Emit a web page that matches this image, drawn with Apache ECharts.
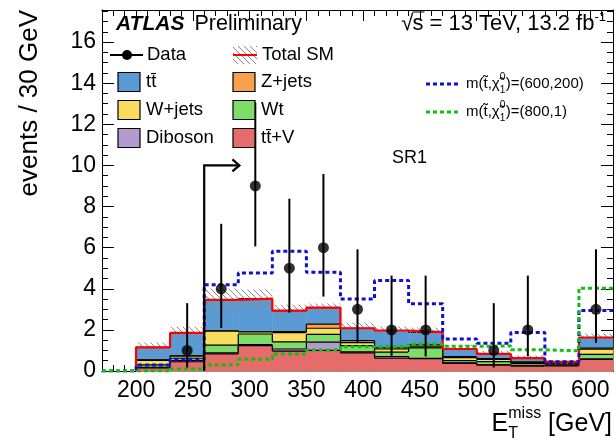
<!DOCTYPE html>
<html><head><meta charset="utf-8">
<script src="https://cdn.jsdelivr.net/npm/echarts@6/dist/echarts.min.js"></script>
<style>html,body{margin:0;padding:0;background:#fff}#c{width:616px;height:440px}</style>
</head><body><div id="c"></div><script>
// ---- data ----
const binEdges = [200,230,260,290,320,350,380,410,440,470,500,530,560,590,620];
const ttV     = [0.15,0.45,0.83,1.23,0.97,1.00,0.88,0.62,0.60,0.37,0.28,0.24,0.25,0.56];
const diboson = [0.03,0.05,0.05,0.05,0.10,0.40,0.05,0.08,0.02,0.03,0.03,0.02,0.02,0.03];
const wt      = [0.12,0.12,0.38,0.52,0.35,0.38,0.30,0.22,0.50,0.10,0.15,0.10,0.06,0.22];
const wjets   = [0.22,0.10,0.68,0.10,0.45,0.30,0.15,0.15,0.05,0.15,0.10,0.06,0.04,0.25];
const zjets   = [0.03,0.03,0.02,0.02,0.05,0.20,0.10,0.05,0.10,0.05,0.04,0.03,0.02,0.05];
const ttbar   = [0.60,1.10,1.50,1.60,1.02,0.80,0.60,0.85,0.62,0.37,0.23,0.18,0.05,0.52];
const totalUnc = [0.24,0.30,0.55,0.45,0.28,0.20,0.28,0.20,0.22,0.20,0.15,0.13,0.10,0.20];
const sig600_200 = [0.29,0.57,4.20,4.77,5.82,4.80,3.50,4.40,3.27,1.56,1.35,1.87,0.45,2.94];
const sig800_1   = [0.00,0.10,0.30,0.57,0.83,1.02,1.18,1.20,1.30,1.20,1.22,1.03,0.98,4.03];
const dataX  = [245,275,305,335,365,395,425,455,515,545,605];
const dataY  = [1,4,9,5,6,3,2,2,1,2,3];
const dataLo = [0.17,2.09,6.06,2.84,3.62,1.37,0.71,0.71,0.17,0.71,1.37];
const dataHi = [3.30,7.16,13.06,8.38,9.58,5.92,4.64,4.64,3.30,4.64,5.92];
const xMajorTicks = [200,250,300,350,400,450,500,550,600];
const cutValue = 260, arrowY = 10, arrowEnd = 291;

const FONT = 'Liberation Sans';
const colors = {ttbar:'#5b9bd5', zjets:'#f8a04c', wjets:'#fadc5e', wt:'#80dc68', diboson:'#b39bd0', ttV:'#e66b6b'};

// cumulative stacks (bottom → top: ttV, diboson, Wt, W+jets, Z+jets, ttbar)
const layers = [['ttV',ttV],['diboson',diboson],['wt',wt],['wjets',wjets],['zjets',zjets],['ttbar',ttbar]];
const cums = []; let run = binEdges.slice(0,-1).map(()=>0);
layers.forEach(([k,arr])=>{ run = run.map((v,i)=>v+arr[i]); cums.push([k, run.slice()]); });
const total = run.slice();

const ctx2 = document.createElement('canvas').getContext('2d');
function tw(s, size, w){ ctx2.font = (w||'') + ' ' + size + 'px "' + FONT + '"'; return ctx2.measureText(s).width; }

// hatch pattern
const pat = document.createElement('canvas'); pat.width = 6; pat.height = 6;
(function(){ const g = pat.getContext('2d'); g.strokeStyle = '#8a8a8a'; g.lineWidth = 1;
  g.beginPath(); g.moveTo(0,0); g.lineTo(6,6); g.moveTo(-3,3); g.lineTo(3,9); g.moveTo(3,-3); g.lineTo(9,3); g.stroke(); })();
const hatchFill = {image: pat, repeat: 'repeat'};

function stackSeries(key, cum){
  const data = cum.map((c,i)=>[binEdges[i], binEdges[i+1], c, i>0?cum[i-1]:0]);
  return {type:'custom', silent:true, data,
    encode:{x:[0,1], y:[2]},
    renderItem:(p, api)=>{
      const x0=api.value(0), x1=api.value(1), c=api.value(2), pv=api.value(3);
      const a=api.coord([x0,0]), b=api.coord([x1,c]), pp=api.coord([x0,pv]);
      return {type:'group', children:[
        {type:'rect', shape:{x:a[0], y:b[1], width:b[0]-a[0], height:a[1]-b[1]}, style:{fill:colors[key], stroke:colors[key], lineWidth:0.6}},
        {type:'line', shape:{x1:a[0], y1:b[1], x2:b[0], y2:b[1]}, style:{stroke:'#000', lineWidth:1.2}},
        {type:'line', shape:{x1:a[0], y1:pp[1], x2:a[0], y2:b[1]}, style:{stroke:'#000', lineWidth:1.2}}
      ]};
    }};
}
function stepPts(vals, start){
  const pts = [[start,0]];
  vals.forEach((v,i)=>pts.push([binEdges[i], v]));
  pts.push([binEdges[binEdges.length-1], vals[vals.length-1]]);
  return pts;
}

const series = [];
for (let i = cums.length-1; i >= 0; i--) series.push(stackSeries(cums[i][0], cums[i][1]));
// uncertainty hatch
series.push({type:'custom', silent:true, data: total.map((t,i)=>[binEdges[i], binEdges[i+1], t-totalUnc[i], t+totalUnc[i]]),
  encode:{x:[0,1], y:[2,3]},
  renderItem:(p, api)=>{
    const a=api.coord([api.value(0), api.value(2)]), b=api.coord([api.value(1), api.value(3)]);
    return {type:'rect', shape:{x:a[0], y:b[1], width:b[0]-a[0], height:a[1]-b[1]}, style:{fill:hatchFill}};
  }});
series.push({type:'line', step:'end', data: stepPts(total, 200), symbol:'none', silent:true,
  lineStyle:{color:'#ff0000', width:2.2}, z:3});
series.push({type:'line', step:'end', data: stepPts(sig600_200, 170), symbol:'none', silent:true,
  lineStyle:{color:'#1010d0', width:3, type:[4,3]}, z:4});
series.push({type:'line', step:'end', data: stepPts(sig800_1, 170), symbol:'none', silent:true,
  lineStyle:{color:'#10c010', width:3, type:[4,3]}, z:4});
// data error bars
series.push({type:'custom', silent:true, z:5, data: dataX.map((x,i)=>[x, dataLo[i], dataHi[i]]),
  encode:{x:0, y:[1,2]},
  renderItem:(p, api)=>{
    const a=api.coord([api.value(0), api.value(1)]), b=api.coord([api.value(0), api.value(2)]);
    return {type:'line', shape:{x1:a[0], y1:a[1], x2:b[0], y2:b[1]}, style:{stroke:'#000', lineWidth:2}};
  }});
series.push({type:'scatter', silent:true, z:6, data: dataX.map((x,i)=>[x, dataY[i]]), symbol:'circle', symbolSize:11,
  itemStyle:{color:'#000'}});
// cut arrow
series.push({type:'custom', silent:true, z:6, data:[[cutValue, 0, arrowY, arrowEnd]],
  encode:{x:[0,3], y:[1,2]},
  renderItem:(p, api)=>{
    const a=api.coord([api.value(0), api.value(1)]), b=api.coord([api.value(0), api.value(2)]), c=api.coord([api.value(3), api.value(2)]);
    return {type:'group', children:[
      {type:'polyline', shape:{points:[a,b,c]}, style:{stroke:'#000', lineWidth:2.2, fill:null}},
      {type:'polyline', shape:{points:[[c[0]-7,c[1]-6],[c[0],c[1]],[c[0]-7,c[1]+6]]}, style:{stroke:'#000', lineWidth:2.2, fill:null}}
    ]};
  }});

const axBase = {type:'value', splitLine:{show:false}, axisLine:{show:true, onZero:false, lineStyle:{color:'#000', width:1}}};
const LBL = 23;
const option = {
  animation:false,
  grid:[{left:102, right:3, top:10, bottom:69}, {left:102, right:3, top:10, bottom:69}],
  xAxis:[
    Object.assign({}, axBase, {gridIndex:0, position:'bottom', min:170, max:620,
      axisTick:{inside:true, length:11, customValues:xMajorTicks, lineStyle:{color:'#000'}},
      axisLabel:{customValues:xMajorTicks, fontSize:LBL, color:'#000', fontFamily:FONT, margin:8}}),
    Object.assign({}, axBase, {gridIndex:0, position:'top', min:170, max:620,
      axisTick:{inside:true, length:11, customValues:xMajorTicks, lineStyle:{color:'#000'}},
      axisLabel:{show:false}}),
    Object.assign({}, axBase, {gridIndex:1, position:'bottom', min:170, max:620, interval:10,
      axisTick:{inside:true, length:6, lineStyle:{color:'#000'}}, axisLabel:{show:false}}),
    Object.assign({}, axBase, {gridIndex:1, position:'top', min:170, max:620, interval:10,
      axisTick:{inside:true, length:6, lineStyle:{color:'#000'}}, axisLabel:{show:false}})
  ],
  yAxis:[
    Object.assign({}, axBase, {gridIndex:0, position:'left', min:0, max:17.56, interval:2,
      axisTick:{inside:true, length:12, lineStyle:{color:'#000'}},
      minorTick:{show:true, splitNumber:4, length:6, lineStyle:{color:'#000'}},
      axisLabel:{fontSize:LBL, color:'#000', fontFamily:FONT, margin:6, showMaxLabel:false}}),
    Object.assign({}, axBase, {gridIndex:0, position:'right', min:0, max:17.56, interval:2,
      axisTick:{inside:true, length:12, lineStyle:{color:'#000'}},
      minorTick:{show:true, splitNumber:4, length:6, lineStyle:{color:'#000'}},
      axisLabel:{show:false}}),
    Object.assign({}, axBase, {gridIndex:1, min:0, max:17.56, show:false})
  ],
  series: series.map(s=>Object.assign({xAxisIndex:0, yAxisIndex:0}, s)),
  graphic: []
};

// ---- labels / legend ----
const G = [];
const T = (x,y,text,size,opt)=>G.push(Object.assign({type:'text', x, y, style:Object.assign({text, fontSize:size, fontFamily:FONT, fill:'#000', verticalAlign:'middle'}, (opt&&opt.style)||{})}, opt&&opt.el||{}));
// ATLAS Preliminary
G.push({type:'text', x:116, y:24, style:{text:'ATLAS', fontSize:21, fontWeight:'bold', fontStyle:'italic', fontFamily:FONT, fill:'#000', verticalAlign:'middle'}});
const atlasW = tw('ATLAS', 21, 'italic bold');
T(116+atlasW+10, 24, 'Preliminary', 21.5);
// sqrt s
const supW = tw('-1', 13);
const mainTxt = 's = 13 TeV, 13.2 fb';
const mainW = tw(mainTxt, 22);
const sEnd = 606 - supW;
T(sEnd - mainW, 24, mainTxt, 22);
T(sEnd, 17, '-1', 13);
const rootW = tw('√', 22);
T(sEnd - mainW - rootW + 1, 24, '√', 22);
G.push({type:'line', shape:{x1:sEnd-mainW, y1:12, x2:sEnd-mainW+tw('s',22)+1, y2:12}, style:{stroke:'#000', lineWidth:1}});

// legend
const rows = [55, 82, 110, 138];
const c1 = 118, c2 = 233, lf = 18.5;
// Data
G.push({type:'line', shape:{x1:110, y1:rows[0], x2:143, y2:rows[0]}, style:{stroke:'#000', lineWidth:2}});
G.push({type:'circle', shape:{cx:127, cy:rows[0], r:5}, style:{fill:'#000'}});
T(147, rows[0], 'Data', lf);
// Total SM
G.push({type:'rect', shape:{x:c2, y:rows[0]-9, width:24, height:18}, style:{fill:hatchFill}});
G.push({type:'line', shape:{x1:c2, y1:rows[0], x2:c2+24, y2:rows[0]}, style:{stroke:'#ff0000', lineWidth:2}});
T(262, rows[0], 'Total SM', lf);
const box = (x,y,col)=>G.push({type:'rect', shape:{x, y:y-9.5, width:22, height:19}, style:{fill:col, stroke:'#000', lineWidth:1.2}});
box(c1, rows[1], colors.ttbar);   T(146, rows[1], 'tt\u0304', lf);
box(c2, rows[1], colors.zjets);   T(261, rows[1], 'Z+jets', lf);
box(c1, rows[2], colors.wjets);   T(146, rows[2], 'W+jets', lf);
box(c2, rows[2], colors.wt);      T(261, rows[2], 'Wt', lf);
box(c1, rows[3], colors.diboson); T(146, rows[3], 'Diboson', lf);
box(c2, rows[3], colors.ttV);     T(261, rows[3], 'tt\u0304+V', lf);

// signal legend
function sigLegend(y, col, tail){
  G.push({type:'line', shape:{x1:426, y1:y, x2:460, y2:y}, style:{stroke:col, lineWidth:3, lineDash:[4,3]}});
  const fs = 15, x0 = 466;
  const p1 = 'm(t\u0303,\u03C7\u0303';
  T(x0, y, p1, fs);
  const w1 = tw(p1, fs);
  T(x0+w1, y-7, '0', 10);
  T(x0+w1, y+6, '1', 10);
  T(x0+w1+tw('0',10)+0.5, y, tail, fs);
}
sigLegend(84, '#1010d0', ')=(600,200)');
sigLegend(112, '#10c010', ')=(800,1)');

T(392, 158, 'SR1', 18);

// axis titles
G.push({type:'text', x:30, y:10, rotation:Math.PI/2, style:{text:'events / 30 GeV', fontSize:26, fontFamily:FONT, fill:'#000', align:'right', verticalAlign:'middle'}});
const gevTxt = ' [GeV]';
const gevW = tw(gevTxt, 25);
const xr = 612 - gevW;
T(xr, 424, gevTxt, 25);
const missW = tw('miss', 16);
T(xr - missW, 414, 'miss', 16);
T(xr - missW, 434, 'T', 16);
T(xr - missW - tw('E',25), 424, 'E', 25);

option.graphic = G.map(g=>Object.assign({silent:true, z:100}, g));

const chart = echarts.init(document.getElementById('c'), null, {renderer:'canvas'});
chart.setOption(option);
</script></body></html>
